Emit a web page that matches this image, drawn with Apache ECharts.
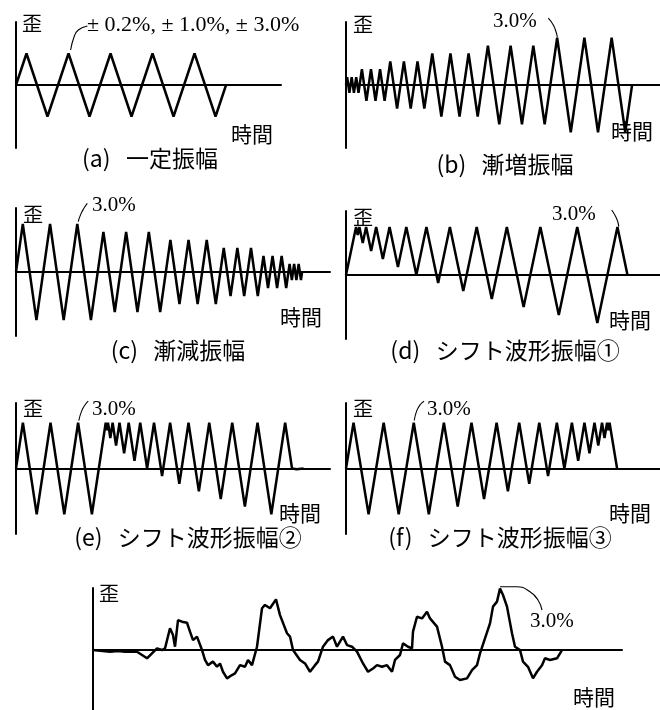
<!DOCTYPE html>
<html>
<head>
<meta charset="utf-8">
<script src="https://cdn.jsdelivr.net/npm/echarts@6/dist/echarts.min.js"></script>
<style>html,body{margin:0;padding:0;background:#fff}#c{width:660px;height:710px}</style>
</head>
<body>
<div id="c"></div>
<script>
// ---------- data (time, strain %) ----------
const waveA = [[0,0],[3,3],[9,-3],[15,3],[21,-3],[27,3],[33,-3],[39,3],[45,-3],[51,3],[57,-3],[60,0]];
const waveB = [[0,0],[0.5,0.5],[1.5,-0.5],[2.5,0.5],[3.5,-0.5],[4.5,0.5],[5.5,-0.5],[7,1],[9,-1],[11,1],[13,-1],[15,1],[17,-1],
  [19.5,1.5],[22.5,-1.5],[25.5,1.5],[28.5,-1.5],[31.5,1.5],[34.5,-1.5],[38,2],[42,-2],[46,2],[50,-2],[54,2],[58,-2],
  [62.5,2.5],[67.5,-2.5],[72.5,2.5],[77.5,-2.5],[82.5,2.5],[87.5,-2.5],[93,3],[99,-3],[105,3],[111,-3],[117,3],[123,-3],[126,0]];
const waveC = [[0,0],[3,3],[9,-3],[15,3],[21,-3],[27,3],[33,-3],[38.5,2.5],[43.5,-2.5],[48.5,2.5],[53.5,-2.5],[58.5,2.5],[63.5,-2.5],
  [68,2],[72,-2],[76,2],[80,-2],[84,2],[88,-2],[91.5,1.5],[94.5,-1.5],[97.5,1.5],[100.5,-1.5],[103.5,1.5],[106.5,-1.5],
  [109,1],[111,-1],[113,1],[115,-1],[117,1],[119,-1],[120.5,0.5],[121.5,-0.5],[122.5,0.5],[123.5,-0.5],[124.5,0.5],[125.5,-0.5],[126,0]];
const waveD = [[0,0],[3,3],[3.5,2.5],[4,3],[5,2],[6,3],[7.5,1.5],[9,3],[11,1],[13,3],[15.5,0.5],[18,3],[21,0],[24,3],
  [27.5,-0.5],[31,3],[35,-1],[39,3],[43.5,-1.5],[48,3],[53,-2],[58,3],[63.5,-2.5],[69,3],[75,-3],[81,3],[84,0]];
const waveE = [[0,0],[3,3],[9,-3],[15,3],[21,-3],[27,3],[33,-3],[39,3],[39.5,2.5],[40,3],[41,2],[42,3],[43.5,1.5],[45,3],
  [47,1],[49,3],[51.5,0.5],[54,3],[57,0],[60,3],[63.5,-0.5],[67,3],[71,-1],[75,3],[79.5,-1.5],[84,3],[89,-2],[94,3],
  [99.5,-2.5],[105,3],[111,-3],[117,3],[120,0],[122,-0.05],[125,0]];
const waveF = [[0,0],[3,3],[9,-3],[15,3],[21,-3],[27,3],[33,-3],[39,3],[44.5,-2.5],[50,3],[55,-2],[60,3],[64.5,-1.5],[69,3],
  [73,-1],[77,3],[80.5,-0.5],[84,3],[87,0],[90,3],[92.5,0.5],[95,3],[97,1],[99,3],[100.5,1.5],[102,3],[103,2],[104,3],
  [104.5,2.5],[105,3],[108,0]];
const waveG = [[0,0],[1.7,-0.08],[2.5,-0.05],[3.2,-0.08],[4.4,-0.08],[4.9,-0.24],[5.4,-0.4],[5.9,-0.16],[6.4,0.08],[6.9,0],
  [7.2,0.08],[7.7,1.05],[8.0,0.73],[8.2,0.16],[8.5,1.45],[8.9,1.37],[9.4,1.32],[9.7,0.89],[10.0,0.48],[10.4,0.65],[10.9,0],
  [11.2,-0.48],[11.5,-0.73],[12.0,-0.56],[12.4,-0.81],[12.7,-0.65],[13.0,-1.05],[13.4,-1.37],[13.9,-1.21],[14.2,-1.13],
  [14.7,-0.73],[15.2,-0.81],[15.5,-0.48],[15.9,-0.73],[16.4,0.16],[16.9,2.02],[17.2,2.18],[17.7,2.02],[18.3,2.45],[18.7,1.69],
  [19.4,0.81],[19.7,0.65],[20.0,0],[20.7,-0.48],[21.2,-0.65],[21.7,-1.05],[22.2,-0.73],[22.5,-0.56],[23.0,0.16],[23.5,0.48],
  [24.0,0.65],[24.4,0.16],[25.0,0.65],[25.4,0.24],[25.9,0.16],[26.4,-0.08],[27.0,-0.65],[27.5,-1.05],[28.0,-0.89],[28.4,-0.73],
  [28.9,-0.81],[29.4,-0.73],[29.9,-1.05],[30.2,-0.48],[30.7,-0.24],[31.0,0.32],[31.5,0.16],[31.9,0.08],[32.0,0.89],[32.4,1.61],
  [32.9,1.53],[33.4,1.85],[33.7,1.53],[34.4,1.13],[34.9,0.16],[35.2,-0.56],[35.7,-0.73],[36.2,-1.29],[36.7,-1.45],[37.4,-1.37],
  [37.9,-0.97],[38.4,-0.73],[38.7,-0.16],[39.2,0.56],[39.7,1.29],[40.0,2.1],[40.4,2.34],[40.7,2.98],[41.0,2.66],[41.4,2.1],
  [41.9,0.81],[42.2,0.16],[42.7,0],[43.0,-0.56],[43.5,-0.81],[44.0,-1.37],[44.4,-1.05],[44.9,-0.73],[45.2,-0.4],[45.7,-0.48],
  [46.4,-0.4],[46.9,0]];

// annotation leader curves (time, strain)
const leaderA = [[15.6,3.33],[16.6,4.6],[17.8,5.24],[20.4,5.62]];
const leaderB = [[89.1,4.24],[91.3,3.81],[92.5,3.38],[93.1,3.03]];
const leaderC = [[27.4,3.15],[28.5,3.6],[29.9,3.98],[31.4,4.29]];
const leaderD = [[79.3,4.06],[80.5,3.64],[81.1,3.33],[81.4,3.02]];
const leaderE = [[27.3,3.15],[28.6,3.8],[30.2,4.22],[31.4,4.42]];
const leaderF = [[27.2,3.15],[28.2,3.8],[29.7,4.22],[31.1,4.42]];
const leaderG = [[40.7,3.06],[42.4,3.06],[43.7,2.82],[44.5,2.42],[44.9,1.93]];

const titles = ['(a)   一定振幅','(b)   漸増振幅','(c)   漸減振幅','(d)   シフト波形振幅①',
  '(e)   シフト波形振幅②','(f)   シフト波形振幅③',''];
const notes = ['± 0.2%, ± 1.0%, ± 3.0%','3.0%','3.0%','3.0%','3.0%','3.0%','3.0%'];
const yName = '歪';
const xName = '時間';

const waves = [waveA,waveB,waveC,waveD,waveE,waveF,waveG];
const leaders = [leaderA,leaderB,leaderC,leaderD,leaderE,leaderF,leaderG];

// ---------- layout ----------
const layout = [
  {g:{left:16,top:22,width:265,height:126}, xMax:75.7, yMin:-6, yMax:6, title:[150,158], yl:[32,23], xl:[252,134], note:[87,25]},
  {g:{left:346,top:22,width:314,height:126}, xMax:138.3, yMin:-4, yMax:4, title:[505,164], yl:[363,24], xl:[632,131], note:[493,21]},
  {g:{left:16,top:208,width:314,height:128}, xMax:138.3, yMin:-4, yMax:4, title:[178,350], yl:[33,214], xl:[301,317], note:[92,205]},
  {g:{left:346,top:211,width:314,height:128}, xMax:93.7, yMin:-4, yMax:4, title:[505,350], yl:[363,217], xl:[630,320], note:[552,214]},
  {g:{left:16,top:403,width:314,height:131}, xMax:136.5, yMin:-4.3, yMax:4.3, title:[188,537], yl:[33,408], xl:[300,513], note:[92,409]},
  {g:{left:346,top:403,width:314,height:131}, xMax:125.1, yMin:-4.3, yMax:4.3, title:[500,537], yl:[363,408], xl:[630,513], note:[427,409]},
  {g:{left:93,top:588,width:529,height:122}, xMax:52.9, yMin:-2.9, yMax:3, title:null, yl:[109,593], xl:[594,697], note:[530,621]}
];

const CJK = '"Noto Sans CJK JP", sans-serif';
const SERIF = '"Liberation Serif", "DejaVu Serif", serif';
const axLine = {show:true, onZero:true, lineStyle:{color:'#000', width:2}};

const grid = [], xAxis = [], yAxis = [], series = [], graphic = [];
layout.forEach((p, i) => {
  grid.push(Object.assign({containLabel:false}, p.g));
  xAxis.push({type:'value', gridIndex:i, min:0, max:p.xMax, axisLine:axLine, axisTick:{show:false},
    axisLabel:{show:false}, splitLine:{show:false}});
  yAxis.push({type:'value', gridIndex:i, min:p.yMin, max:p.yMax, axisLine:axLine, axisTick:{show:false},
    axisLabel:{show:false}, splitLine:{show:false}});
  series.push({type:'line', xAxisIndex:i, yAxisIndex:i, data:waves[i], showSymbol:false, symbol:'none',
    lineStyle:{color:'#000', width:2.5}, z:3, animation:false});
  series.push({type:'line', xAxisIndex:i, yAxisIndex:i, data:leaders[i], showSymbol:false, symbol:'none', smooth:0.5,
    clip:false, lineStyle:{color:'#000', width:1.1}, z:3, animation:false});
  graphic.push({type:'text', style:{text:yName, x:p.yl[0], y:p.yl[1], font:'20px ' + CJK, fill:'#000', textAlign:'center', textVerticalAlign:'middle'}});
  graphic.push({type:'text', style:{text:xName, x:p.xl[0], y:p.xl[1], font:'21px ' + CJK, fill:'#000', textAlign:'center', textVerticalAlign:'middle'}});
  if (p.title) graphic.push({type:'text', style:{text:titles[i], x:p.title[0], y:p.title[1], font:'23px ' + CJK, fill:'#000', textAlign:'center', textVerticalAlign:'middle'}});
  graphic.push({type:'text', style:{text:notes[i], x:p.note[0], y:p.note[1], font:(i === 0 ? '22px ' : '21px ') + SERIF, fill:'#000', textAlign:'left', textVerticalAlign:'middle'}});
});

const chart = echarts.init(document.getElementById('c'), null, {renderer:'canvas'});
chart.setOption({animation:false, backgroundColor:'#fff', grid, xAxis, yAxis, series, graphic});
</script>
</body>
</html>
